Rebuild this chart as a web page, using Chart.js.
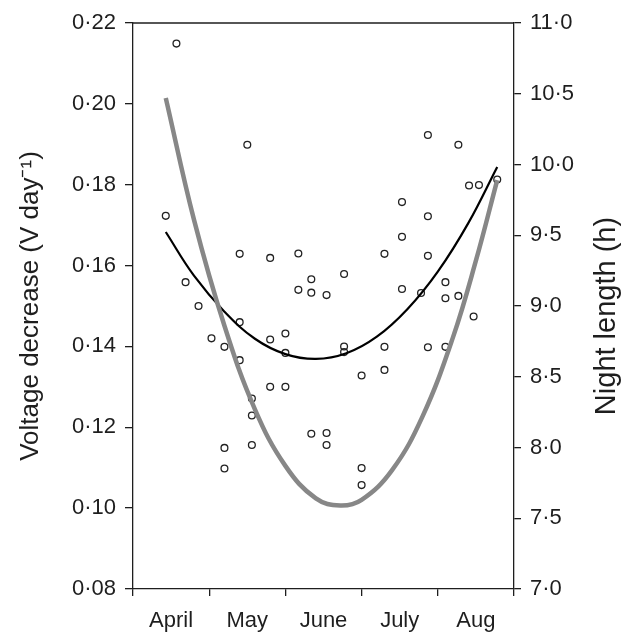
<!DOCTYPE html>
<html>
<head>
<meta charset="utf-8">
<script src="https://cdn.jsdelivr.net/npm/chart.js@4.4.0/dist/chart.umd.min.js"></script>
<style>
  html, body { margin: 0; padding: 0; background: #fff; }
  #wrap { width: 626px; height: 633px; }
</style>
</head>
<body>
<div id="wrap"><canvas id="nightChart"></canvas></div>
<script>
  // x is measured in months: 0 = start of April, 5 = end of August
  const months = ['April', 'May', 'June', 'July', 'Aug'];

  // measured voltage decrease per day
  const sampleMonth = [
    0.43, 0.57, 0.69, 0.86, 1.03, 1.20, 1.20, 1.20, 1.40, 1.40, 1.40, 1.50, 1.56, 1.56,
    1.56, 1.80, 1.80, 1.80, 2.00, 2.00, 2.00, 2.17, 2.17, 2.34, 2.34, 2.34, 2.54, 2.54,
    2.54, 2.77, 2.77, 2.77, 3.30, 3.30, 3.00, 3.30, 3.00, 3.00, 3.87, 4.27, 4.41, 4.54,
    4.78, 3.53, 3.87, 3.53, 3.87, 3.53, 3.78, 4.10, 4.10, 4.27, 4.47, 3.87, 4.10
  ];
  const sampleVoltage = [
    0.1723, 0.2149, 0.1559, 0.1500, 0.1420, 0.1399, 0.1149, 0.1098, 0.1460, 0.1366, 0.1629, 0.1899, 0.1271, 0.1229,
    0.1156, 0.1619, 0.1417, 0.1300, 0.1432, 0.1384, 0.1300, 0.1630, 0.1540, 0.1566, 0.1533, 0.1184, 0.1527, 0.1186,
    0.1156, 0.1579, 0.1400, 0.1386, 0.1629, 0.1399, 0.1328, 0.1342, 0.1099, 0.1057, 0.1923, 0.1899, 0.1798, 0.1799,
    0.1813, 0.1757, 0.1722, 0.1671, 0.1624, 0.1542, 0.1532, 0.1559, 0.1519, 0.1525, 0.1474, 0.1398, 0.1399
  ];

  // fitted curve through the voltage data
  const fitMonth = [0.43, 0.8, 1.2, 1.6, 2.0, 2.4, 2.8, 3.2, 3.6, 4.0, 4.4, 4.78];
  const fitVoltage = [0.1683, 0.1575, 0.1486, 0.1419, 0.1381, 0.1369, 0.1383, 0.1424, 0.1492, 0.1585, 0.1705, 0.1844];

  // night length (right axis)
  const nightMonth = [0.43, 0.8, 1.2, 1.6, 2.0, 2.4, 2.72, 3.0, 3.4, 3.8, 4.2, 4.5, 4.78];
  const nightHours = [10.47, 9.61, 8.86, 8.27, 7.87, 7.64, 7.59, 7.63, 7.84, 8.22, 8.78, 9.32, 9.89];

  const voltTicks = [0.08, 0.10, 0.12, 0.14, 0.16, 0.18, 0.20, 0.22];
  const nightTicks = [7.0, 7.5, 8.0, 8.5, 9.0, 9.5, 10.0, 10.5, 11.0];

  const axisColor = '#1e1e1e';
  const tickFont = { family: "'Liberation Sans', Arial, sans-serif", size: 22 };
  const titleFont = { family: "'Liberation Sans', Arial, sans-serif", size: 26 };
  const rightTitleSize = 29;

  function pairs(xs, ys) {
    return xs.map((x, i) => ({ x: x, y: ys[i] }));
  }

  // top edge of the frame + right axis title (reads bottom to top)
  const framePlugin = {
    id: 'framePlugin',
    afterDraw(chart) {
      const { ctx, chartArea } = chart;
      ctx.save();
      ctx.strokeStyle = axisColor;
      ctx.lineWidth = 1.3;
      ctx.beginPath();
      ctx.moveTo(chartArea.left, chartArea.top);
      ctx.lineTo(chartArea.right, chartArea.top);
      ctx.stroke();

      const y2 = chart.scales.y2;
      ctx.translate(y2.right - 19, (chartArea.top + chartArea.bottom) / 2 + 10);
      ctx.rotate(-Math.PI / 2);
      ctx.fillStyle = axisColor;
      ctx.font = rightTitleSize + 'px ' + titleFont.family;
      ctx.textAlign = 'center';
      ctx.textBaseline = 'middle';
      ctx.fillText('Night length (h)', 0, 0);
      ctx.restore();
    }
  };

  document.addEventListener('DOMContentLoaded', function() {
    const ctx = document.getElementById('nightChart').getContext('2d');
    new Chart(ctx, {
      type: 'scatter',
      data: {
        datasets: [
          {
            type: 'line',
            data: pairs(nightMonth, nightHours),
            yAxisID: 'y2',
            borderColor: '#878787',
            borderWidth: 4.5,
            pointRadius: 0,
            tension: 0.4,
            fill: false
          },
          {
            type: 'line',
            data: pairs(fitMonth, fitVoltage),
            yAxisID: 'y',
            borderColor: '#000',
            borderWidth: 2.2,
            pointRadius: 0,
            tension: 0.4,
            fill: false
          },
          {
            data: pairs(sampleMonth, sampleVoltage),
            yAxisID: 'y',
            pointStyle: 'circle',
            pointRadius: 3.4,
            pointHoverRadius: 3.4,
            borderWidth: 1.3,
            borderColor: '#222',
            backgroundColor: 'rgba(255,255,255,0)'
          }
        ]
      },
      options: {
        responsive: true,
        maintainAspectRatio: false,
        animation: false,
        layout: { padding: { top: 23, left: 0, right: 0, bottom: 0 } },
        plugins: {
          legend: { display: false },
          tooltip: { enabled: false }
        },
        scales: {
          x: {
            type: 'linear',
            min: 0,
            max: 5,
            afterFit: s => { s.height = 44; },
            border: { display: true, color: axisColor, width: 1.3 },
            grid: {
              drawOnChartArea: false,
              tickLength: 7,
              lineWidth: 1.3,
              tickColor: c => (c.tick && c.tick.value % 1 === 0) ? axisColor : 'rgba(0,0,0,0)'
            },
            ticks: {
              stepSize: 0.5,
              autoSkip: false,
              maxRotation: 0,
              padding: 12,
              color: axisColor,
              font: tickFont,
              callback: function(value) {
                const i = Math.floor(value);
                return (value - i === 0.5) ? months[i] : '';
              }
            }
          },
          y: {
            position: 'left',
            min: voltTicks[0],
            max: voltTicks[voltTicks.length - 1],
            afterFit: s => { s.width = 133; },
            afterBuildTicks: s => { s.ticks = voltTicks.map(v => ({ value: v })); },
            border: { display: true, color: axisColor, width: 1.3 },
            grid: { drawOnChartArea: false, tickLength: 8, lineWidth: 1.3, tickColor: axisColor },
            ticks: {
              padding: 9,
              color: axisColor,
              font: tickFont,
              callback: v => v.toFixed(2).replace('.', '·')
            },
            title: {
              display: true,
              text: 'Voltage decrease (V day⁻¹)',
              color: axisColor,
              font: titleFont,
              padding: { top: 15, bottom: 0 }
            }
          },
          y2: {
            position: 'right',
            min: nightTicks[0],
            max: nightTicks[nightTicks.length - 1],
            afterFit: s => { s.width = 112; },
            afterBuildTicks: s => { s.ticks = nightTicks.map(v => ({ value: v })); },
            border: { display: true, color: axisColor, width: 1.3 },
            grid: { drawOnChartArea: false, tickLength: 7, lineWidth: 1.3, tickColor: axisColor },
            ticks: {
              padding: 9,
              color: axisColor,
              font: tickFont,
              callback: v => v.toFixed(1).replace('.', '·')
            }
          }
        }
      },
      plugins: [framePlugin]
    });
  });
</script>
</body>
</html>
